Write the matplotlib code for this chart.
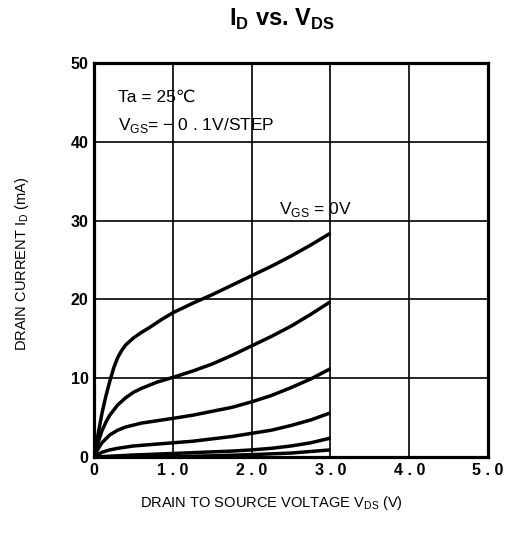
import matplotlib
matplotlib.use("Agg")
import matplotlib.pyplot as plt

plt.rcParams['font.family'] = ['Liberation Sans', 'DejaVu Sans']
plt.rcParams['mathtext.fontset'] = 'custom'
plt.rcParams['mathtext.rm'] = 'Liberation Sans'
plt.rcParams['mathtext.bf'] = 'Liberation Sans:bold'

# drain current curves, VGS = 0, -0.1, -0.2 ...
vds_1 = [0, 0.05, 0.1, 0.15, 0.2, 0.25, 0.3, 0.35, 0.4, 0.5, 0.6, 0.7, 0.85,
         1.0, 1.25, 1.5, 1.75, 2.0, 2.25, 2.5, 2.75, 3.0]
id_1 = [0, 2.8, 5.5, 7.7, 9.6, 11.3, 12.6, 13.5, 14.2, 15.1, 15.8, 16.4, 17.4,
        18.3, 19.5, 20.6, 21.8, 23.0, 24.2, 25.5, 26.9, 28.4]

vds_2 = [0, 0.05, 0.1, 0.15, 0.2, 0.3, 0.4, 0.5, 0.6, 0.8, 1.0, 1.25, 1.5,
         1.75, 2.0, 2.25, 2.5, 2.75, 3.0]
id_2 = [0, 1.8, 3.3, 4.4, 5.3, 6.6, 7.5, 8.2, 8.7, 9.5, 10.1, 10.9, 11.8,
        12.9, 14.1, 15.3, 16.6, 18.1, 19.7]

vds_3 = [0, 0.05, 0.1, 0.2, 0.3, 0.4, 0.6, 0.8, 1.0, 1.25, 1.5, 1.75, 2.0,
         2.25, 2.5, 2.75, 3.0]
id_3 = [0, 1.0, 1.8, 2.8, 3.4, 3.8, 4.3, 4.6, 4.9, 5.3, 5.8, 6.3, 7.0,
        7.8, 8.8, 9.9, 11.2]

vds_4 = [0, 0.1, 0.2, 0.3, 0.5, 0.75, 1.0, 1.25, 1.5, 1.75, 2.0, 2.25, 2.5,
         2.75, 3.0]
id_4 = [0, 0.6, 0.9, 1.1, 1.4, 1.6, 1.8, 2.0, 2.3, 2.6, 3.0, 3.4, 4.0,
        4.7, 5.6]

vds_5 = [0, 0.5, 1.0, 1.5, 1.75, 2.0, 2.25, 2.5, 2.75, 3.0]
id_5 = [0, 0.25, 0.45, 0.65, 0.75, 0.9, 1.1, 1.4, 1.8, 2.4]

vds_6 = [0, 1.0, 1.5, 2.0, 2.5, 2.75, 3.0]
id_6 = [0, 0.05, 0.15, 0.3, 0.5, 0.7, 0.9]

x_ticks = [0, 1, 2, 3, 4, 5]
x_labels = ['0', '1 . 0', '2 . 0', '3 . 0', '4 . 0', '5 . 0']
y_ticks = [0, 10, 20, 30, 40, 50]

fig = plt.figure(figsize=(5.15, 5.44), dpi=100)
ax = fig.add_axes([94 / 515, 87 / 544, 394 / 515, 394 / 544])

curves = [(vds_1, id_1), (vds_2, id_2), (vds_3, id_3),
          (vds_4, id_4), (vds_5, id_5), (vds_6, id_6)]
for vx, iy in curves:
    ax.plot(vx, iy, color='black', lw=2.5, solid_capstyle='butt',
            solid_joinstyle='round', zorder=3)

ax.set_xlim(0, 5)
ax.set_ylim(0, 50)
ax.set_xticks(x_ticks)
ax.set_xticklabels(x_labels)
ax.set_yticks(y_ticks)
ax.tick_params(length=0, labelsize=11.5, pad=4)
for lab in ax.get_xticklabels() + ax.get_yticklabels():
    lab.set_fontweight('bold')
ax.grid(True, color='black', lw=1.2)
for sp in ax.spines.values():
    sp.set_linewidth(2.3)

ax.text(0.3, 45.6, 'Ta = 25\u2103', fontsize=12.5, va='center')
ax.text(0.3, 42.1, 'V$_{\\mathrm{GS}}$= \u2212 0 . 1V/STEP', fontsize=12.5,
        va='center')
ax.text(2.35, 31.4, 'V$_{\\mathrm{GS}}$ = 0V', fontsize=12.5, va='center')

fig.text(0.548, 0.965, r'I$_{\mathbf{D}}$ vs. V$_{\mathbf{DS}}$', fontsize=17,
         fontweight='bold', ha='center', va='center')
fig.text(0.043, 0.515, r'DRAIN CURRENT I$_{\mathrm{D}}$ (mA)', fontsize=10.5,
         rotation=90, ha='center', va='center')
fig.text(0.528, 0.075, r'DRAIN TO SOURCE VOLTAGE V$_{\mathrm{DS}}$ (V)',
         fontsize=10.5, ha='center', va='center')

fig.savefig('out.png', dpi=100)
